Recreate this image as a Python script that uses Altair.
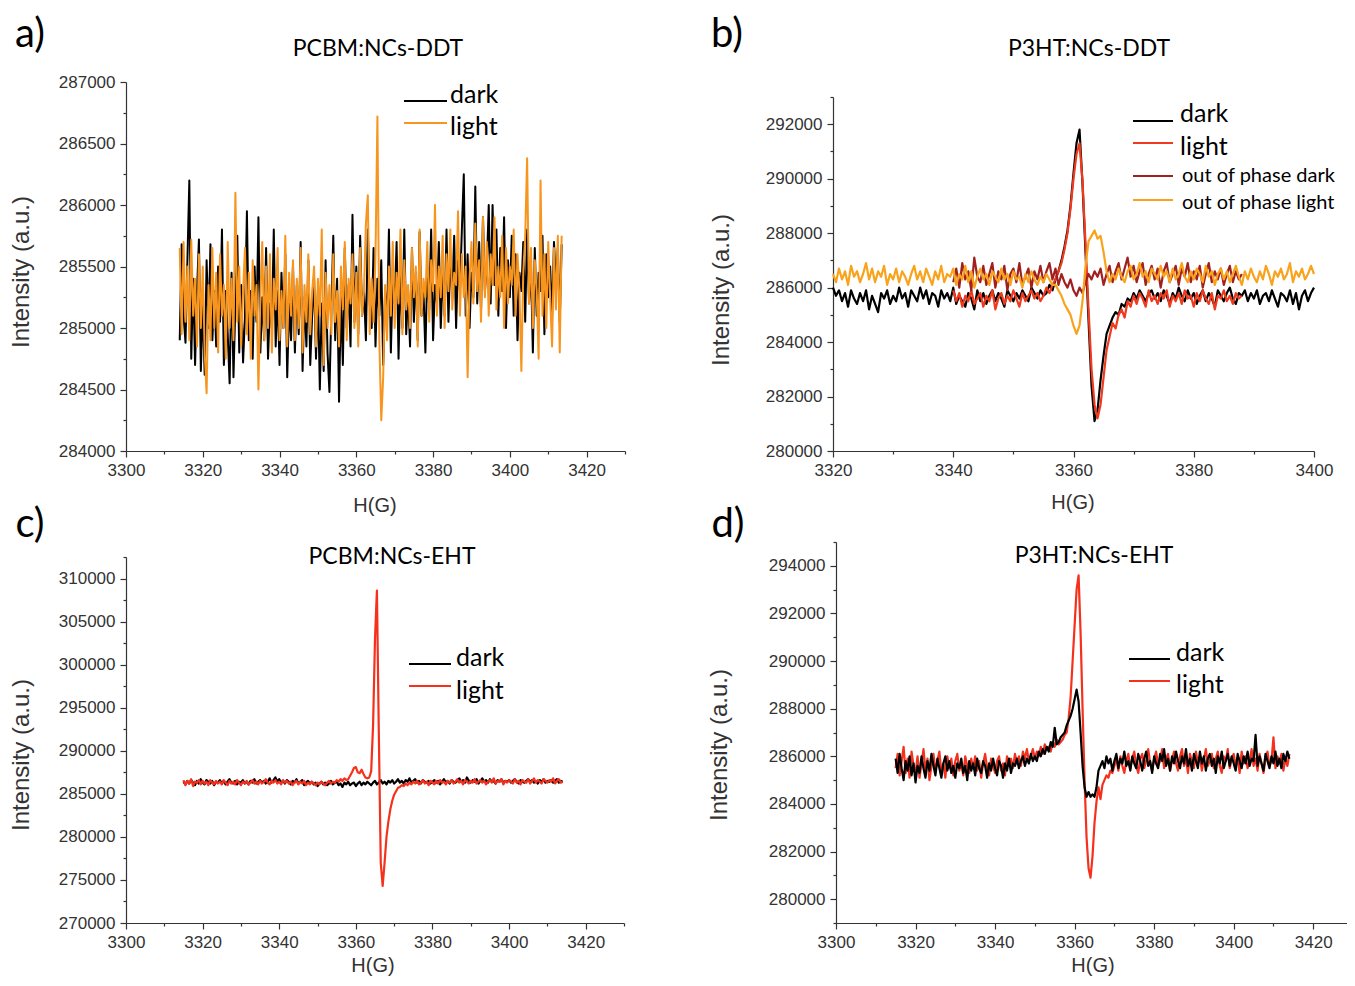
import altair as alt
import pandas as pd

# ---------------- data ----------------
# field start / step (G) for each trace
A_START, B_START, B_START2, C_START, D_START, STEP = 3314.0, 3320.0, 3340.0, 3315.0, 3315.0, 0.5

a_dark = [
284900,285680,285100,284880,285550,286200,284750,285400,284700,285300,
285720,284650,285200,284620,285550,285000,285680,284900,285300,284850,
285500,285050,285800,284700,285300,284950,284550,285450,284600,285200,
285750,284800,285350,284720,285100,285950,284900,285300,284750,285500,
285050,285900,284800,285250,284900,285650,284750,285200,285000,285800,
284850,285300,284700,285450,285000,285600,284600,285200,284900,285500,
284800,285350,284950,285700,284650,285250,284850,285550,284700,285100,
285400,284750,285300,284500,285200,284650,285550,284800,284480,285150,
285750,284900,285400,284400,285250,284700,285650,285000,285350,284850,
285920,285050,285500,284950,285750,285100,285300,284900,285800,285200,
285000,285650,284850,285400,285100,285550,284700,285300,285050,285800,
284800,285400,285200,285700,284750,285450,285000,285800,284950,285300,
284850,285650,285050,285450,284900,285780,285100,285300,284800,285500,
285150,285800,284900,285350,285200,285700,285000,285450,285100,285800,
285050,285600,285250,285750,285000,285550,285300,285800,286250,285100,
285600,285000,285450,285250,286150,285200,285700,285150,285900,285300,
285500,286000,285200,286000,285350,285800,285100,285650,285300,285900,
285000,285550,285250,285750,285100,285600,284900,285450,285300,285700,
285050,285800,285200,285500,284800,285650,285100,285450,285300,285750,
284950,285600,285250,285500,285100,285700,285350,285650,285050,285680]

a_light = [
285650,284950,285700,285050,285500,284900,285720,285100,285400,284850,
285600,285000,285500,284800,284470,285350,284900,285650,285000,285450,
284800,285600,285100,285350,284750,285700,285000,285400,284900,286100,
285050,285500,284850,285300,285650,284950,285450,284750,285550,285100,
285350,284500,285250,285700,284900,285500,285000,285600,284800,285400,
285150,285650,284900,285300,285000,285750,284850,285450,285100,285550,
284900,285400,285000,285650,284800,285350,285050,285600,284950,285300,
285500,284850,285400,285100,285800,284700,285450,285000,285350,284950,
285600,285050,285300,284850,285500,285150,285700,284900,285400,285200,
285600,285000,285450,284850,285650,285100,285300,285850,286080,284950,
285400,285050,285600,286720,284900,284250,284600,285350,284900,285500,
285100,285700,285000,285450,285200,285800,284950,285550,285150,285350,
285000,285650,285250,285500,284850,285800,285100,285400,285250,285700,
285050,285550,285300,286000,285100,285500,285250,285750,285000,285600,
285300,285800,285150,285450,285350,285950,285100,285600,285250,285500,
284600,285400,285700,285200,285850,285300,285550,285050,285900,285250,
285700,285100,285600,285350,285900,285150,285500,285250,285750,285000,
285650,285200,285500,285350,285800,285100,285600,285300,284650,285450,
285750,286380,285200,285650,285000,285550,285300,284750,286200,285100,
285600,285000,285700,285250,284850,285650,285150,285750,284800,285750]

b_dark = [
286000,285700,285900,285500,285800,285300,285900,285600,285400,285800,
285500,285900,285200,285700,285400,285100,285800,285600,285900,285400,
285700,285500,286000,285600,285800,285300,285900,285700,285500,286000,
285600,285900,285400,285800,285700,285300,285900,285600,285800,285500,
286000,285400,285700,285500,285300,285800,285600,285200,285900,285500,
285800,285400,285700,285900,285500,285800,285600,285300,285900,285700,
285500,285800,285600,285900,285700,285500,286000,285800,285600,285900,
285700,285800,286100,285900,286300,286600,287000,287500,288100,289000,
290200,291300,291800,289800,287300,284800,282400,281100,281500,282600,
283500,284300,284600,284900,285100,285000,285400,285300,285600,285500,
285800,285600,285900,285700,285500,285800,285900,285600,285800,285500,
285900,285700,285400,285800,285600,286000,285700,285500,285900,285600,
285800,285400,285700,285900,285500,285800,285600,285300,285900,285700,
285500,285800,286000,285600,285400,285800,285700,285900,285500,285800,
285600,285900,285400,285700,285800,285500,285900,285600,285300,285800,
285700,285500,285900,285400,285800,285200,285700,285900,285500,285800,
286000]

b_light = [
285900,285500,285800,285300,285700,285500,285900,285400,285600,285800,
285300,285700,285500,285900,285200,285600,285800,285400,285700,285500,
285900,285600,285300,285800,285500,285700,285900,285600,285800,285500,
285700,286000,285800,286100,286300,286600,286900,287400,288000,288900,
290000,290900,291300,289900,287600,285200,283000,281700,281200,281700,
282700,283700,284200,284700,284500,285000,285200,284900,285500,285300,
285700,285400,285800,285600,285300,285900,285500,285700,285400,285800,
285600,285900,285300,285700,285500,285800,285400,285900,285600,285700,
285300,285800,285500,285900,285600,285400,285800,285200,285700,285600,
285900,285500,285700,285400,285800,285600,285700]

b_oop_dark = [
286200,286700,286000,286900,286300,286600,285900,287100,286400,286200,
286800,286100,286500,286900,286000,286600,286300,286800,285900,286500,
286700,286200,286900,286100,286400,286700,286000,286600,286300,286800,
286200,286600,286900,286300,286700,286100,286500,286200,286000,286300,
285900,285700,286000,285800,286200,286500,286300,286600,286400,286700,
286100,286500,286800,286200,286600,286900,286300,286700,287100,286400,
286800,286200,286600,286900,286100,286500,286800,286300,286700,286000,
286600,286900,286200,286500,286800,286100,286700,286400,286900,286200,
286600,286300,286800,286000,286500,286900,286200,286600,286300,286700,
286100,286500,286800,286200,286600,286300,286500]

b_oop_light = [
286500,286200,286700,286300,286600,286100,286800,286400,286600,286200,
286500,286900,286300,286700,286200,286600,286400,286800,286100,286500,
286300,286700,286200,286600,286400,286100,286500,286800,286300,286600,
286200,286700,286400,286100,286600,286300,286800,286200,286500,286400,
286700,286100,286500,286300,286800,286200,286600,286000,286400,286700,
286300,286500,286100,286600,286400,286200,286700,286300,286500,286100,
286600,286300,286400,286000,286500,286200,286600,286300,286100,286400,
286200,286500,286300,286100,286100,285900,285700,285400,285200,285000,
284600,284300,284600,285500,286800,287700,287900,288100,287800,287900,
287300,286600,286200,286500,286300,286700,286400,286200,286600,286800,
286300,286500,286900,286400,286600,286200,286700,286500,286300,286800,
286400,286600,286200,286700,286300,286500,286900,286400,286200,286600,
286300,286700,286500,286200,286800,286400,286600,286100,286500,286700,
286300,286600,286200,286500,286800,286400,286100,286600,286300,286700,
286400,286200,286600,286300,286800,286500,286100,286600,286400,286700,
286300,286500,286900,286200,286600,286400,286700,286300,286500,286800,
286500]

c_dark = [
286400,286100,286500,286200,286600,286300,286000,286500,286200,286700,
286300,286100,286600,286400,286200,286500,286000,286400,286300,286600,
286200,286500,286100,286400,286700,286300,286200,286500,286100,286400,
286300,286600,286200,286400,286100,286500,286300,286700,286200,286400,
286600,286300,286500,286200,286400,286800,286300,286600,286900,286400,
286700,286300,286500,286200,286600,286400,286100,286500,286300,286700,
286200,286400,286600,286000,286300,286500,286200,286400,286100,286300,
285900,286200,286400,286100,286300,286000,286200,286500,286100,286300,
286400,286000,286200,285800,286300,286100,286400,286000,286200,286300,
285900,286200,286400,286000,286300,286100,286400,286200,286000,286300,
286500,286100,286300,286600,286200,286400,286100,286500,286300,286600,
286200,286400,286700,286300,286500,286200,286600,286400,286800,286300,
286500,286700,286300,286500,286200,286600,286400,286300,286500,286200,
286400,286600,286300,286500,286100,286400,286700,286300,286500,286200,
286600,286400,286300,286500,286800,286400,286600,286300,286900,286500,
286300,286600,286400,286700,286200,286500,286800,286400,286600,286300,
286700,286400,286500,286200,286600,286400,286700,286300,286500,286400,
286600,286300,286500,286700,286400,286200,286600,286400,286300,286500,
286700,286400,286600,286300,286500,286200,286600,286400,286700,286300,
286500,286400,286600,286300,286500,286700,286300,286500,286400]

c_light = [
286600,286000,286500,286200,286700,285900,286400,286300,286600,286100,
286500,286200,286400,286000,286600,286300,286100,286500,286200,286400,
286100,286600,286300,286000,286500,286200,286400,286100,286600,286300,
286000,286400,286200,286500,286100,286300,286600,286200,286400,286100,
286500,286200,286400,286700,286300,286100,286500,286300,286600,286200,
286400,286100,286600,286300,286500,286200,286400,286000,286300,286500,
286100,286400,286200,286500,286000,286300,286100,286400,286200,286000,
286300,286100,286400,286200,286000,286300,286500,286200,286400,286300,
286600,286400,286700,286500,286800,286600,
286700,287100,287500,288000,288100,287500,287400,287800,287300,286900,
286800,286900,287600,293000,303000,308600,292000,277000,274300,277000,
280000,281800,283200,284200,284900,285300,285700,285800,286000,
285900,286200,286000,286300,286100,
286400,286200,286500,286100,286300,286600,286200,286400,286000,286500,
286300,286100,286500,286200,286600,286300,286400,286100,286500,286300,
286600,286200,286400,286700,286300,286500,286100,286600,286400,286200,
286500,286300,286700,286200,286400,286600,286300,286500,286100,286400,
286600,286300,286800,286200,286500,286400,286700,286100,286500,286300,
286600,286400,286200,286700,286300,286500,286100,286600,286400,286300,
286700,286200,286500,286800,286300,286600,286400,286200,286700,286500,
286300,286600,286400,286800,286200,286500,286700,286300,286400]

d_dark = [
285900,285300,286100,285500,285000,285800,285400,286000,285200,285700,
284900,285600,285300,286000,285500,285100,285800,285400,286100,285600,
285200,285900,285500,285100,285700,286000,285400,285800,285300,285600,
285100,285700,285500,285900,285300,285600,285000,285800,285400,285700,
285200,285900,285500,285300,285800,285600,285100,285700,285400,285900,
285500,285200,285800,285600,285100,285700,285400,285900,285300,285700,
285600,285900,285500,285800,286000,285600,285900,285700,286100,285800,
286000,285800,286200,286000,286300,286100,286400,286200,286600,286400,
287200,286500,286600,286800,286900,287000,287300,287500,287700,288000,
288400,288800,288300,287000,285600,284700,284300,284500,284300,284400,
284300,284700,285400,285600,285800,285500,286000,285700,285900,285400,
285800,286100,285500,285900,285700,286200,285600,285800,285400,286000,
285700,285500,286100,285800,285400,285900,286200,285600,285800,285300,
286000,285700,285500,286100,285800,286300,285600,285900,285400,286000,
285700,286200,285800,285500,286000,285700,286300,285600,285900,285400,
286100,285800,285500,286200,285700,286000,285400,285900,286100,285600,
285900,285300,286000,285700,286200,285500,285800,286100,285600,286000,
285700,285400,286100,285800,285500,286000,285700,286200,285600,285900,
285800,286900,285600,286000,285700,285400,286100,285800,285500,286000,
285700,286200,285600,285900,285500,286100,285800,286200,285900]

d_light = [
285500,286100,285200,285800,286400,285300,285900,285100,286200,285600,
285300,286000,285100,285700,286300,285400,285900,285000,285600,286100,
285400,285800,286200,285300,285700,285100,286000,285500,285900,285200,
285800,286100,285400,285700,285200,286000,285600,285300,285900,285500,
286000,285400,285800,285100,285700,286100,285500,285200,285900,285600,
285300,285800,286000,285400,285700,285200,286000,285600,285900,285500,
286100,285700,286000,285600,286200,285900,286300,285800,286000,286300,
285900,286200,286000,286400,286100,286500,286300,286400,286200,286600,
286400,286700,286500,286600,286700,286900,287000,287600,288500,290000,
291500,293000,293600,291200,288000,285000,282600,281300,280900,281800,
283200,284100,284700,284200,284800,285000,285200,285100,285400,285300,
285600,285900,285400,286000,285600,285300,285800,286100,285500,285900,
286200,285600,285300,285900,286100,285500,285800,286300,285700,285400,
285900,286200,285600,285800,286300,285500,285900,286100,285400,285800,
286200,285700,285400,286000,286300,285600,285900,285300,286100,285800,
285500,286200,285700,286000,285400,285900,286300,285600,285800,286100,
285500,285900,286200,285600,285300,286000,285800,286300,285500,285900,
286100,285600,285900,285300,286200,285700,286000,285500,285800,286300,
285600,285900,285400,286100,285700,285300,285900,286200,285600,285800,
286800,285500,286000,285700,286100,285400,285900,285600,286100]

# ---------------- styling ----------------
W, H = 1339, 970
CAL = "Lato"
ARIAL = "Liberation Sans"
BLACK = "#000000"
ORANGE_A = "#F7951E"
RED = "#F5301C"
RED_B = "#F03A1E"
BROWN = "#A0201F"
ORANGE_B = "#F9A31C"
AXC = "#333333"
one = pd.DataFrame({"k": [0]})


def trace(values, start):
    return pd.DataFrame({"h": [start + STEP * i for i in range(len(values))], "v": values})


def ticks(lo, hi, step):
    out, v = [], lo
    while v <= hi + 1e-9:
        out.append(v)
        v += step
    return out


def make_axis(orient, offset, vals, major):
    test = f"abs(datum.value % {major}) < 0.001"
    return alt.Axis(
        orient=orient, offset=offset, values=vals, format="d", title=None, grid=False,
        labelExpr=f"{test} ? datum.label : ''",
        tickSize={"condition": {"test": test, "value": 6}, "value": 3},
        labelFlush=False, labelOverlap=False, labelFont=ARIAL, labelFontSize=17,
        labelColor=AXC, labelPadding=5, domainColor=AXC, tickColor=AXC,
        domainWidth=1.2, tickWidth=1.2,
    )


def panel(series, xdom, xr, xstep, xmaj, ydom, yr, ystep, ymaj, sw):
    xs = alt.Scale(domain=xdom, range=xr, nice=False, zero=False)
    ys = alt.Scale(domain=ydom, range=yr, nice=False, zero=False)
    xa = make_axis("bottom", yr[0] - H, ticks(xdom[0], xdom[1], xstep), xmaj)
    ya = make_axis("left", -xr[0], ticks(ydom[0], ydom[1], ystep), ymaj)
    layers = []
    for df, col in series:
        layers.append(
            alt.Chart(df).mark_line(color=col, strokeWidth=sw, strokeJoin="round").encode(
                x=alt.X("h:Q", scale=xs, axis=xa),
                y=alt.Y("v:Q", scale=ys, axis=ya),
            )
        )
    return alt.layer(*layers)


def txt(s, x, y, size, font=CAL, angle=0, align="center", color="black"):
    return alt.Chart(one).mark_text(
        text=s, font=font, fontSize=size, angle=angle, align=align, baseline="middle", color=color
    ).encode(x=alt.value(x), y=alt.value(y))


def seg(x1, x2, y, color):
    return alt.Chart(one).mark_rule(color=color, strokeWidth=2).encode(
        x=alt.value(x1), x2=alt.value(x2), y=alt.value(y)
    )


pa = panel([(trace(a_dark, A_START), BLACK), (trace(a_light, A_START), ORANGE_A)],
           [3300, 3430], [118, 617], 10, 20, [284000, 287000], [443, 74], 250, 500, 2.0)
pb = panel([(trace(b_dark, B_START), BLACK), (trace(b_light, B_START2), RED_B),
            (trace(b_oop_dark, B_START2), BROWN), (trace(b_oop_light, B_START), ORANGE_B)],
           [3320, 3400], [825, 1306], 10, 20, [280000, 293000], [443, 89], 1000, 2000, 2.2)
pc = panel([(trace(c_dark, C_START), BLACK), (trace(c_light, C_START), RED)],
           [3300, 3430], [118, 616], 10, 20, [270000, 312500], [915, 549], 2500, 5000, 2.2)
pd_ = panel([(trace(d_light, D_START), RED), (trace(d_dark, D_START), BLACK)],
            [3300, 3430], [828, 1345], 10, 20, [279000, 295000], [915, 534], 1000, 2000, 2.2)

annots = [
    # panel a
    txt("a)", 22, 27, 40), txt("PCBM:NCs-DDT", 370, 41, 23),
    txt("Intensity (a.u.)", 14, 264, 24, font=ARIAL, angle=270, color=AXC),
    txt("H(G)", 367, 498, 20, font=ARIAL, color=AXC),
    seg(396, 439, 93, BLACK), txt("dark", 442, 87, 25, align="left"),
    seg(396, 439, 115, ORANGE_A), txt("light", 442, 119, 25, align="left"),
    # panel b
    txt("b)", 719, 27, 40), txt("P3HT:NCs-DDT", 1081, 41, 23),
    txt("Intensity (a.u.)", 714, 282, 24, font=ARIAL, angle=270, color=AXC),
    txt("H(G)", 1065, 495, 20, font=ARIAL, color=AXC),
    seg(1125, 1165, 113, BLACK), txt("dark", 1172, 106, 25, align="left"),
    seg(1125, 1165, 135, RED_B), txt("light", 1172, 139, 25, align="left"),
    seg(1125, 1165, 168, BROWN), txt("out of phase dark", 1174, 168, 20, align="left"),
    seg(1125, 1165, 192, ORANGE_B), txt("out of phase light", 1174, 195, 20, align="left"),
    # panel c
    txt("c)", 22, 517, 40), txt("PCBM:NCs-EHT", 384, 549, 23),
    txt("Intensity (a.u.)", 14, 747, 24, font=ARIAL, angle=270, color=AXC),
    txt("H(G)", 365, 958, 20, font=ARIAL, color=AXC),
    seg(401, 443, 656, BLACK), txt("dark", 448, 650, 25, align="left"),
    seg(401, 443, 678, RED), txt("light", 448, 683, 25, align="left"),
    # panel d
    txt("d)", 720, 517, 40), txt("P3HT:NCs-EHT", 1086, 548, 23),
    txt("Intensity (a.u.)", 712, 737, 24, font=ARIAL, angle=270, color=AXC),
    txt("H(G)", 1085, 958, 20, font=ARIAL, color=AXC),
    seg(1121, 1162, 651, BLACK), txt("dark", 1168, 645, 25, align="left"),
    seg(1121, 1162, 673, RED), txt("light", 1168, 677, 25, align="left"),
]

chart = (
    alt.layer(pa, pb, pc, pd_, *annots)
    .resolve_scale(x="independent", y="independent")
    .properties(width=W, height=H, padding=0, autosize="none", background="white")
    .configure_view(stroke=None)
)

chart.save("out.html", embed_options={"renderer": "svg", "actions": False})
